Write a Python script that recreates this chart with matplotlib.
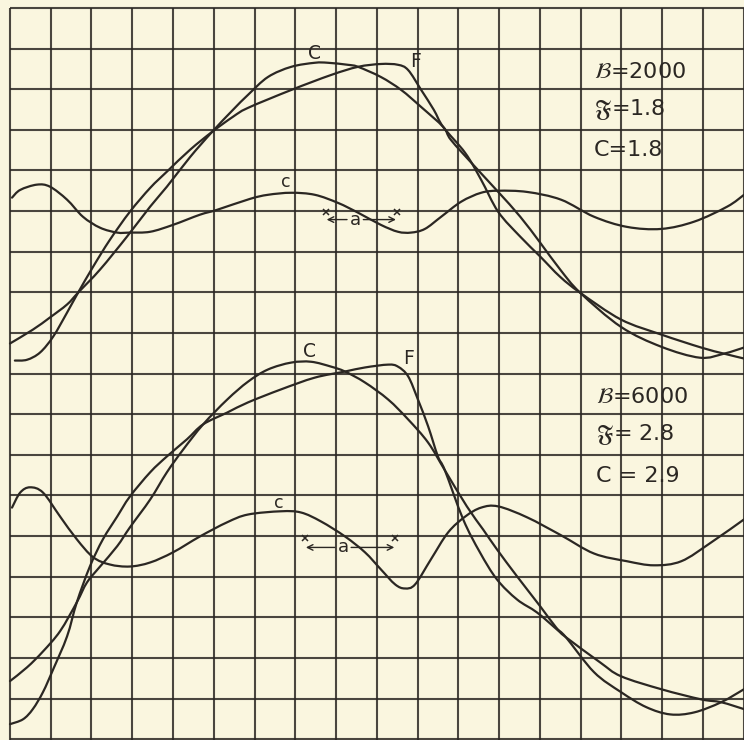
import matplotlib

matplotlib.use("Agg")
import matplotlib.pyplot as plt
import numpy as np
from matplotlib.patches import PathPatch
from matplotlib.path import Path

# grid units: 18 x 18 squares, x to the right, y upwards
# --- upper diagram (B = 2000) ---
top_C_x = [0.0, 0.56, 0.98, 1.40, 1.67, 2.21, 2.87, 3.44, 3.85, 4.42, 4.96, 5.47, 5.84,
           6.33, 6.90, 7.48, 7.80, 8.29, 8.54, 9.10, 9.60, 10.09, 10.63, 10.82, 11.41,
           11.98, 12.52, 13.01, 13.50, 13.99, 14.99, 15.98, 16.93, 17.52, 18.01]
top_C_y = [9.74, 10.08, 10.38, 10.70, 10.99, 11.56, 12.37, 13.11, 13.60, 14.33, 14.95,
           15.49, 15.86, 16.30, 16.55, 16.65, 16.65, 16.60, 16.55, 16.30, 15.98, 15.56,
           15.07, 14.75, 14.09, 13.47, 12.86, 12.22, 11.56, 10.99, 10.15, 9.66, 9.39,
           9.49, 9.64]

top_F_x = [0.12, 0.42, 0.74, 1.06, 1.40, 1.67, 2.04, 2.45, 2.94, 3.44, 3.85, 4.42, 4.96,
           5.47, 5.84, 6.90, 7.88, 8.54, 9.10, 9.52, 9.77, 10.09, 10.40, 10.63, 11.17,
           11.56, 11.98, 12.52, 13.01, 13.50, 13.99, 14.99, 15.98, 16.96, 17.52, 18.01]
top_F_y = [9.32, 9.34, 9.52, 9.91, 10.50, 10.99, 11.63, 12.29, 12.98, 13.57, 13.97,
           14.51, 14.95, 15.32, 15.54, 15.98, 16.35, 16.55, 16.62, 16.60, 16.47, 15.98,
           15.49, 15.07, 14.43, 13.77, 12.98, 12.37, 11.88, 11.38, 10.99, 10.33, 9.96,
           9.64, 9.49, 9.37]

top_c_x = [0.05, 0.25, 0.66, 0.98, 1.40, 1.79, 2.21, 2.63, 2.94, 3.44, 4.00, 4.66, 5.08,
           5.89, 6.33, 6.90, 7.48, 8.05, 8.54, 9.10, 9.52, 9.84, 10.18, 10.58, 11.07,
           11.56, 11.98, 12.69, 13.52, 14.33, 15.14, 15.98, 16.79, 17.60, 18.01]
top_c_y = [13.33, 13.52, 13.65, 13.60, 13.28, 12.86, 12.59, 12.47, 12.47, 12.49, 12.66,
           12.91, 13.03, 13.30, 13.40, 13.45, 13.40, 13.20, 12.96, 12.66, 12.49, 12.47,
           12.56, 12.86, 13.23, 13.45, 13.50, 13.47, 13.28, 12.86, 12.61, 12.56, 12.74,
           13.11, 13.40]

# --- lower diagram (B = 6000) ---
bot_C_x = [0.0, 0.42, 0.81, 1.23, 1.64, 1.89, 2.21, 2.63, 2.94, 3.44, 3.85, 4.25, 4.74,
           5.33, 5.84, 6.33, 6.90, 7.39, 7.88, 8.22, 8.71, 9.28, 9.77, 10.26, 10.67,
           11.21, 11.61, 11.95, 12.44, 13.01, 13.40, 13.64, 14.33, 14.99, 15.61, 16.20,
           16.79, 17.45, 18.01]
bot_C_y = [1.43, 1.77, 2.16, 2.66, 3.37, 3.86, 4.25, 4.75, 5.21, 5.90, 6.57, 7.13, 7.75,
           8.36, 8.80, 9.10, 9.27, 9.29, 9.17, 9.05, 8.78, 8.36, 7.87, 7.30, 6.62, 5.73,
           5.16, 4.67, 4.01, 3.27, 2.75, 2.51, 1.65, 1.16, 0.79, 0.61, 0.66, 0.91, 1.23]

bot_F_x = [0.0, 0.32, 0.56, 0.81, 1.06, 1.40, 1.64, 1.96, 2.28, 2.63, 2.94, 3.44, 3.85,
           4.34, 4.74, 5.33, 5.84, 6.65, 7.48, 8.22, 8.71, 9.28, 9.52, 9.77, 10.01,
           10.26, 10.50, 10.67, 11.12, 11.53, 11.95, 12.44, 12.93, 13.42, 13.64, 14.48,
           14.99, 15.98, 16.96, 17.45, 18.01]
bot_F_y = [0.37, 0.49, 0.74, 1.16, 1.72, 2.53, 3.37, 4.25, 4.92, 5.48, 5.97, 6.57, 6.96,
           7.38, 7.75, 8.04, 8.29, 8.61, 8.90, 9.05, 9.15, 9.22, 9.17, 8.93, 8.36, 7.70,
           6.96, 6.62, 5.41, 4.60, 3.93, 3.44, 3.12, 2.70, 2.51, 1.89, 1.55, 1.23, 0.98,
           0.91, 0.74]

bot_c_x = [0.05, 0.25, 0.49, 0.81, 1.23, 1.64, 2.04, 2.45, 2.94, 3.44, 4.00, 4.66, 5.33,
           5.84, 6.65, 7.14, 7.63, 8.22, 8.71, 9.10, 9.45, 9.69, 9.94, 10.33, 10.75,
           11.17, 11.56, 11.98, 12.69, 13.52, 14.33, 15.14, 15.80, 16.47, 17.20, 18.01]
bot_c_y = [5.70, 6.07, 6.20, 6.07, 5.48, 4.92, 4.48, 4.30, 4.25, 4.35, 4.60, 4.99, 5.34,
           5.53, 5.61, 5.58, 5.36, 4.99, 4.60, 4.18, 3.81, 3.71, 3.81, 4.43, 5.09, 5.48,
           5.70, 5.73, 5.46, 5.02, 4.57, 4.38, 4.28, 4.38, 4.84, 5.41]

top_values = [r"$\mathcal{B}$=2000", r"$\mathfrak{F}$=1.8", "C=1.8"]
top_value_y = [16.43, 15.49, 14.51]
bot_values = [r"$\mathcal{B}$=6000", r"$\mathfrak{F}$= 2.8", "C = 2.9"]
bot_value_y = [8.43, 7.50, 6.47]

PAPER = "#faf6df"
INK = "#2b2723"

plt.rcParams["font.family"] = ["DejaVu Sans"]
plt.rcParams["mathtext.fontset"] = "stixsans"

fig = plt.figure(figsize=(7.44, 7.40), dpi=100)
fig.patch.set_facecolor(PAPER)
ax = fig.add_axes([0, 0, 1, 1])
ax.set_facecolor(PAPER)
ax.set_xlim(-0.245, 18.01)
ax.set_ylim(-0.02, 18.195)
ax.axis("off")

# squared paper, only inside the 18 x 18 field
ax.hlines(range(19), 0, 18.01, color=INK, linewidth=1.5, alpha=0.85)
ax.vlines(range(19), -0.02, 18, color=INK, linewidth=1.5, alpha=0.85)


def smooth_curve(xs, ys):
    # Catmull-Rom through the read points, drawn as cubic Bezier segments
    p = np.column_stack([xs, ys])
    ext = np.vstack([p[0], p, p[-1]])
    verts = [p[0]]
    codes = [Path.MOVETO]
    for i in range(1, len(ext) - 2):
        c1 = ext[i] + (ext[i + 1] - ext[i - 1]) / 6
        c2 = ext[i + 1] - (ext[i + 2] - ext[i]) / 6
        verts += [c1, c2, ext[i + 1]]
        codes += [Path.CURVE4] * 3
    patch = PathPatch(Path(verts, codes), fill=False, edgecolor=INK, linewidth=1.6,
                      capstyle="round", joinstyle="round")
    ax.add_patch(patch)


for xs, ys in [(top_C_x, top_C_y), (top_F_x, top_F_y), (top_c_x, top_c_y),
               (bot_C_x, bot_C_y), (bot_F_x, bot_F_y), (bot_c_x, bot_c_y)]:
    smooth_curve(xs, ys)

# curve letters
lbl_kw = dict(color=INK, ha="center", va="center")
ax.text(7.46, 16.89, "C", fontsize=13.5, **lbl_kw)
ax.text(9.96, 16.68, "F", fontsize=13.5, **lbl_kw)
ax.text(6.77, 13.72, "c", fontsize=12.5, **lbl_kw)
ax.text(7.34, 9.54, "C", fontsize=13.5, **lbl_kw)
ax.text(9.77, 9.37, "F", fontsize=13.5, **lbl_kw)
ax.text(6.60, 5.82, "c", fontsize=12.5, **lbl_kw)


def phase_arrow(x0, x1, y_mark, y_arrow, x_a):
    ax.plot([x0, x1], [y_mark, y_mark], "x", color=INK, markersize=5, mew=1.1)
    arr = dict(arrowstyle="->", color=INK, lw=1.0, shrinkA=0, shrinkB=0)
    ax.annotate("", xy=(x0 + 0.02, y_arrow), xytext=(x_a - 0.2, y_arrow), arrowprops=arr)
    ax.annotate("", xy=(x1 - 0.02, y_arrow), xytext=(x_a + 0.2, y_arrow), arrowprops=arr)
    ax.text(x_a, y_arrow, "a", fontsize=13, color=INK, ha="center", va="center")


phase_arrow(7.75, 9.49, 12.98, 12.79, 8.47)
phase_arrow(7.24, 9.45, 4.94, 4.72, 8.17)

for s, y in zip(top_values, top_value_y):
    ax.text(14.33, y, s, fontsize=16, color=INK, ha="left", va="center")
for s, y in zip(bot_values, bot_value_y):
    ax.text(14.38, y, s, fontsize=16, color=INK, ha="left", va="center")

fig.savefig("out.png", dpi=100, facecolor=PAPER)
